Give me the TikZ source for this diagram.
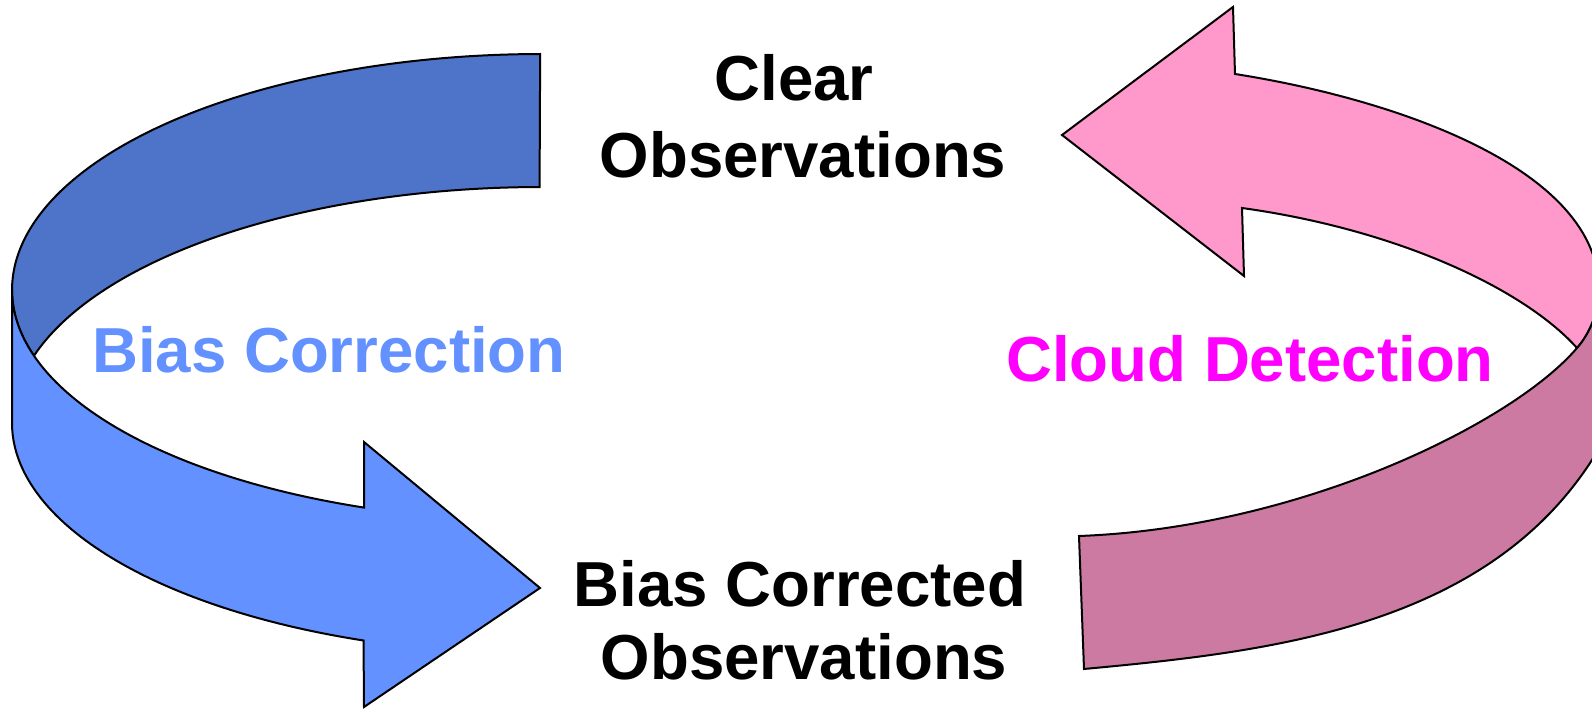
\documentclass[tikz,border=0pt]{standalone}
\usepackage{fontspec}
\setmainfont{Liberation Sans}
\definecolor{bluefront}{RGB}{99,145,255}
\definecolor{blueback}{RGB}{77,116,201}
\definecolor{pinkback}{RGB}{255,153,204}
\definecolor{pinkfront}{RGB}{204,122,162}
\definecolor{cloudtext}{RGB}{255,0,255}
\newcommand\lblfont{\fontsize{31.8}{38}\selectfont\bfseries}

\begin{document}
\begin{tikzpicture}[x=0.5pt,y=-0.5pt,
  band/.style={draw=black,line width=1pt,line join=miter},
  lbl/.style={anchor=base,inner sep=0pt,font=\lblfont}]
\useasboundingbox (0,0) rectangle (1592,710);

% ---- blue ring: a band whose top rim is centred at (542,290) and bottom rim at (542,423)
% inner side of the back wall
\path[band,fill=blueback]
  plot[domain=0:1,samples=70] ({542+530*cos(269.8-89.8*\x)},{290+236*sin(269.8-89.8*\x)})
  -- plot[domain=0:1,samples=20] ({542+530*cos(180-16.55*\x)},{290+231*sin(180-16.55*\x)})
  -- plot[domain=0:1,samples=70] ({542+530*cos(196.55+73.25*\x)},{423+236*sin(196.55+73.25*\x)})
  -- cycle;
% outer side of the front wall, ending in the arrow head
\path[band,fill=bluefront]
  (12,290) -- (12,423)
  -- plot[domain=0:1,samples=70] ({542+530*cos(180-70.38*\x)},{423+231*sin(180-70.38*\x)})
  -- (364,707) -- (540,588) -- (364,442)
  -- plot[domain=0:1,samples=70] ({542+530*cos(109.62+70.38*\x)},{290+231*sin(109.62+70.38*\x)})
  -- cycle;

% ---- pink ring
% back wall with the arrow head
\path[band,fill=pinkback]
  (1062,135) -- (1233,7) -- (1235,74)
  .. controls (1400,100) and (1599,170) .. (1599,290)
  .. controls (1599,315) and (1587,337) .. (1577,348)
  .. controls (1525,290) and (1400,230) .. (1242,208)
  -- (1244,276) -- cycle;
% front wall ending in the tail
\path[band,fill=pinkfront]
  (1599,290)
  .. controls (1599,315) and (1587,337) .. (1577,348)
  .. controls (1512,424) and (1299,528) .. (1079,536)
  -- (1084,669)
  .. controls (1266,652) and (1483,629) .. (1592,460)
  -- (1615,415) -- (1615,290) -- cycle;

% ---- labels
\node[lbl] (clear1) at (794,101) {Clear};
\node[lbl] (clear2) at (803,178) {Observations};
\node[lbl,text=bluefront] (bias) at (329,373) {Bias Correction};
\node[lbl,text=cloudtext] (cloud) at (1250,382) {Cloud Detection};
\node[lbl] (corr1) at (800,607) {Bias Corrected};
\node[lbl] (corr2) at (804,680) {Observations};
\end{tikzpicture}
\end{document}
